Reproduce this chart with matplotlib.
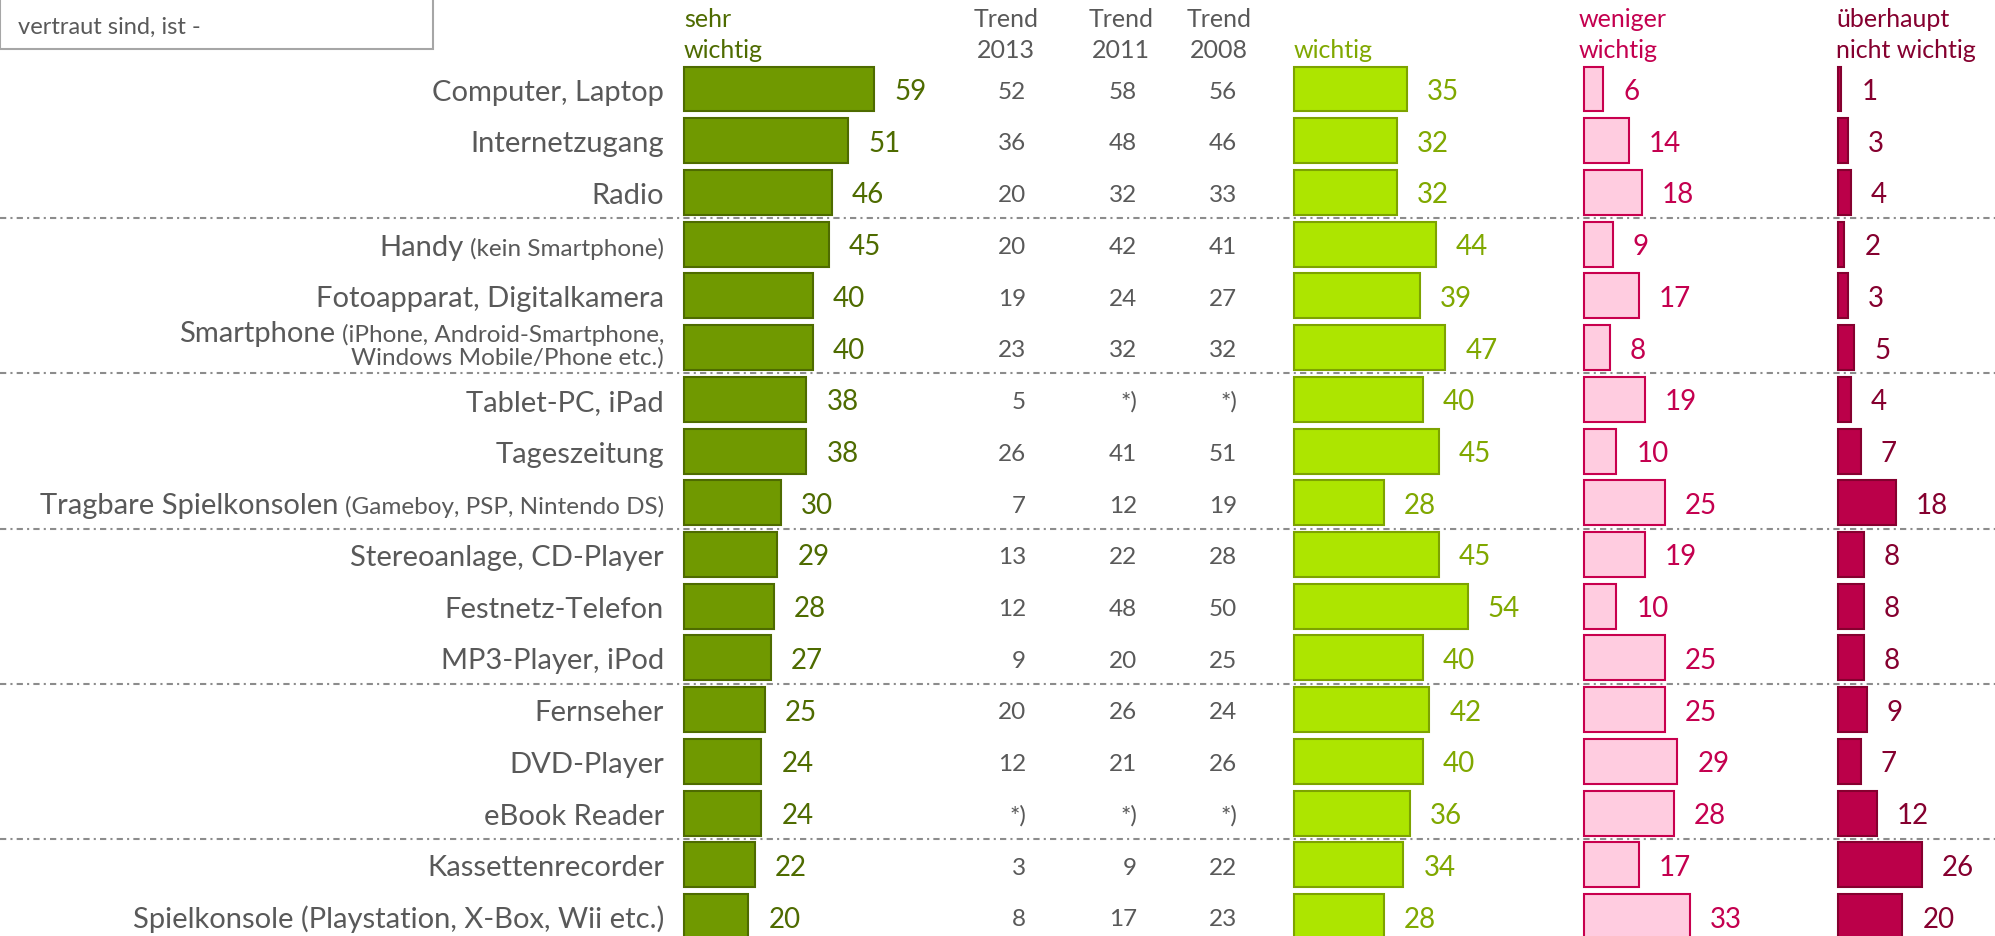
"""Wichtigkeit von Geräten: vier Balkenspalten plus Trendwerte."""

import matplotlib
matplotlib.use("Agg")
import matplotlib.pyplot as plt
from matplotlib.patches import Rectangle

plt.rcParams["font.family"] = ["Lato", "DejaVu Sans"]

# Daten
categories = [
    "Computer, Laptop", "Internetzugang", "Radio", "Handy",
    "Fotoapparat, Digitalkamera", "Smartphone", "Tablet-PC, iPad",
    "Tageszeitung", "Tragbare Spielkonsolen", "Stereoanlage, CD-Player",
    "Festnetz-Telefon", "MP3-Player, iPod", "Fernseher", "DVD-Player",
    "eBook Reader", "Kassettenrecorder",
    "Spielkonsole (Playstation, X-Box, Wii etc.)",
]
subtitles = {
    3: ["(kein Smartphone)"],
    5: ["(iPhone, Android-Smartphone,", "Windows Mobile/Phone etc.)"],
    8: ["(Gameboy, PSP, Nintendo DS)"],
}
sehr_wichtig = [59, 51, 46, 45, 40, 40, 38, 38, 30, 29, 28, 27, 25, 24, 24, 22, 20]
wichtig = [35, 32, 32, 44, 39, 47, 40, 45, 28, 45, 54, 40, 42, 40, 36, 34, 28]
weniger_wichtig = [6, 14, 18, 9, 17, 8, 19, 10, 25, 19, 10, 25, 25, 29, 28, 17, 33]
nicht_wichtig = [1, 3, 4, 2, 3, 5, 4, 7, 18, 8, 8, 8, 9, 7, 12, 26, 20]
trend_2013 = [52, 36, 20, 20, 19, 23, 5, 26, 7, 13, 12, 9, 20, 12, None, 3, 8]
trend_2011 = [58, 48, 32, 42, 24, 32, None, 41, 12, 22, 48, 20, 26, 21, None, 9, 17]
trend_2008 = [56, 46, 33, 41, 27, 32, None, 51, 19, 28, 50, 25, 24, 26, None, 22, 23]
trend_years = ["2013", "2011", "2008"]
group_breaks = [3, 6, 9, 12, 15]

W, H = 1995, 937
PX = 3.22            # Pixel pro Prozentpunkt
ROW0, ROW_STEP = 90, 51.72
GRAY = "#595959"


def row_of(py):
    return (py - ROW0) / ROW_STEP


def cap_off(size):
    # halbe Versalhöhe in Zeilen, damit Text mittig zum Balken steht
    return 0.36 * size * 100 / 72 / ROW_STEP


fig = plt.figure(figsize=(W / 100, H / 100), dpi=100)
ax = fig.add_axes([0, 0, 1, 1])
ax.set_xlim(0, W / PX)
ax.set_ylim(row_of(H), row_of(0))
ax.axis("off")

rows = list(range(len(categories)))

groups = [
    (sehr_wichtig, 684, "#709900", "#4e6b00", "#4e6b00"),
    (wichtig, 1294, "#ade500", "#7da300", "#80a800"),
    (weniger_wichtig, 1584, "#ffcce0", "#c8004e", "#c4004f"),
    (nicht_wichtig, 1838, "#bb0049", "#85002f", "#85002f"),
]
for values, left_px, face, edge, tcol in groups:
    left = left_px / PX
    ax.barh(rows, values, left=left, height=0.87, color=face,
            edgecolor=edge, linewidth=1.5)
    for r, v in zip(rows, values):
        ax.text(left + v + 20 / PX, r + cap_off(20), str(v), fontsize=20,
                color=tcol, ha="left", va="baseline")

# Trendspalten
for vals, xr in zip([trend_2013, trend_2011, trend_2008], [1026, 1137, 1237]):
    for r, v in zip(rows, vals):
        ax.text(xr / PX, r + cap_off(17.5), "*)" if v is None else str(v),
                fontsize=17.5, color=GRAY, ha="right", va="baseline")

# Kategorien, ggf. mit kleinerem Zusatz
fig.canvas.draw()
renderer = fig.canvas.get_renderer()
label_x = 664
for r, name in enumerate(categories):
    sub = subtitles.get(r)
    if sub is None:
        ax.text(label_x / PX, r + cap_off(21), name, fontsize=21, color=GRAY,
                ha="right", va="baseline")
        continue
    if len(sub) == 1:
        base = r + cap_off(21)
    else:
        base = r - 6.6 / ROW_STEP
        ax.text(label_x / PX, base + 23 / ROW_STEP, sub[1], fontsize=17.5,
                color=GRAY, ha="right", va="baseline")
    t = ax.text(label_x / PX, base, sub[0], fontsize=17.5, color=GRAY,
                ha="right", va="baseline")
    w = t.get_window_extent(renderer).width
    ax.text((label_x - w - 6) / PX, base, name, fontsize=21, color=GRAY,
            ha="right", va="baseline")

# Trennlinien zwischen den Dreiergruppen
for b in group_breaks:
    ax.axhline(b - 0.5, color="#8c8c8c", linewidth=1.5,
               linestyle=(0, (3, 2, 1, 2)))

# Spaltenköpfe
heads = [
    (684, ["sehr", "wichtig"], "#4e6b00", "left"),
    (1294, ["", "wichtig"], "#80a800", "left"),
    (1579, ["weniger", "wichtig"], "#c4004f", "left"),
    (1836, ["überhaupt", "nicht wichtig"], "#85002f", "left"),
]
for (xh, year) in zip([1006, 1121, 1219], trend_years):
    heads.append((xh, ["Trend", year], GRAY, "center"))
for xh, lines, col, ha in heads:
    for py, txt in zip([27, 58], lines):
        if txt:
            ax.text(xh / PX, row_of(py), txt, fontsize=18, color=col,
                    ha=ha, va="baseline")

# Kasten oben links mit Fragetext
box = Rectangle((0, (H - 50) / H), 433 / W, 60 / H, transform=fig.transFigure,
                facecolor="white", edgecolor="#a6a6a6", linewidth=1.5)
fig.patches.append(box)
fig.text(18 / W, 1 - 34 / H, "vertraut sind, ist -", fontsize=17, color=GRAY,
         ha="left", va="baseline")

fig.savefig("out.png", dpi=100)
